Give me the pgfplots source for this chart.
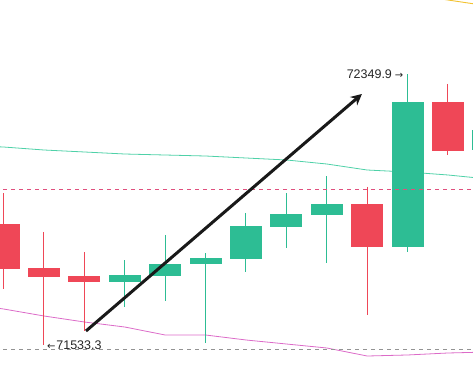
\documentclass[border=0pt]{standalone}
\usepackage{fontspec}
\setmainfont{Liberation Sans}
\newfontfamily\dejavu{DejaVu Sans}
\usepackage{pgfplots}
\pgfplotsset{compat=1.18}
\usetikzlibrary{arrows.meta}
\definecolor{cg}{HTML}{2DBD94}
\definecolor{cr}{HTML}{EF4757}
\definecolor{mateal}{HTML}{4FD1A8}
\definecolor{mapink}{HTML}{DC6BC8}
\definecolor{mayel}{HTML}{F2C230}
\definecolor{dred}{HTML}{E0507E}
\begin{document}
\begin{tikzpicture}
\begin{axis}[width=473pt, height=365pt, scale only axis,
  xmin=-0.089, xmax=11.62, ymin=71473.0, ymax=72572.9,
  axis lines=none, clip=true]
% moving averages
\addplot[mateal, line width=0.8pt] coordinates {(-0.2,72131) (0,72129.9) (1,72120.9) (2,72114.9) (3,72108.8) (4,72105.8) (5,72102.8) (6,72096.8) (7,72090.8) (8,72078.7) (9,72060.6) (10,72054.6) (11,72045.6) (12,72033.5)};
\addplot[mapink, line width=0.8pt] coordinates {(-0.2,71645) (0,71641.8) (1,71620.7) (2,71602.6) (3,71587.5) (4,71563.4) (5,71563.4) (6,71548.4) (7,71536.3) (8,71524.3) (9,71500.1) (10,71503.2) (11,71509.2) (12,71512.2)};
\addplot[mayel, line width=0.9pt] coordinates {(10,72591) (11,72572.9) (12,72554.8)};
% candles: wicks
\addplot[cr, line width=1pt] coordinates {(0,71991.3) (0,71702.0)};
\addplot[cr, line width=1pt] coordinates {(1,71873.8) (1,71533.3)};
\addplot[cr, line width=1pt] coordinates {(2,71813.5) (2,71575.5)};
\addplot[cg, line width=1pt] coordinates {(3,71789.4) (3,71647.8)};
\addplot[cg, line width=1pt] coordinates {(4,71864.8) (4,71665.9)};
\addplot[cg, line width=1pt] coordinates {(5,71810.5) (5,71539.3)};
\addplot[cg, line width=1pt] coordinates {(6,71931.1) (6,71753.3)};
\addplot[cg, line width=1pt] coordinates {(7,71991.3) (7,71825.6)};
\addplot[cg, line width=1pt] coordinates {(8,72042.5) (8,71780.4)};
\addplot[cr, line width=1pt] coordinates {(9,72009.4) (9,71623.7)};
\addplot[cg, line width=1pt] coordinates {(10,72349.9) (10,71813.5)};
\addplot[cr, line width=1pt] coordinates {(11,72319.8) (11,72105.8)};
\addplot[cg, line width=1pt] coordinates {(12,72200.0) (12,72100.0)};
% candles: bodies
\addplot[fill=cr, draw=none] coordinates {(-0.396,71897.9) (0.396,71897.9) (0.396,71762.3) (-0.396,71762.3)};
\addplot[fill=cr, draw=none] coordinates {(0.604,71765.3) (1.396,71765.3) (1.396,71738.2) (0.604,71738.2)};
\addplot[fill=cr, draw=none] coordinates {(1.604,71741.2) (2.396,71741.2) (2.396,71723.1) (1.604,71723.1)};
\addplot[fill=cg, draw=none] coordinates {(2.604,71723.1) (3.396,71723.1) (3.396,71744.2) (2.604,71744.2)};
\addplot[fill=cg, draw=none] coordinates {(3.604,71741.2) (4.396,71741.2) (4.396,71777.4) (3.604,71777.4)};
\addplot[fill=cg, draw=none] coordinates {(4.604,71777.4) (5.396,71777.4) (5.396,71795.5) (4.604,71795.5)};
\addplot[fill=cg, draw=none] coordinates {(5.604,71792.4) (6.396,71792.4) (6.396,71891.9) (5.604,71891.9)};
\addplot[fill=cg, draw=none] coordinates {(6.604,71888.9) (7.396,71888.9) (7.396,71928.0) (6.604,71928.0)};
\addplot[fill=cg, draw=none] coordinates {(7.604,71925.0) (8.396,71925.0) (8.396,71958.2) (7.604,71958.2)};
\addplot[fill=cr, draw=none] coordinates {(8.604,71958.2) (9.396,71958.2) (9.396,71828.6) (8.604,71828.6)};
\addplot[fill=cg, draw=none] coordinates {(9.604,71828.6) (10.396,71828.6) (10.396,72265.5) (9.604,72265.5)};
\addplot[fill=cr, draw=none] coordinates {(10.604,72265.5) (11.396,72265.5) (11.396,72117.9) (10.604,72117.9)};
\addplot[fill=cg, draw=none] coordinates {(11.604,72120.9) (12.396,72120.9) (12.396,72181.2) (11.604,72181.2)};
% dashed reference lines (on top of candles)
\addplot[dred, line width=0.8pt, dash pattern=on 4pt off 4pt] coordinates {(-1,72003.4) (13,72003.4)};
\addplot[gray!85, line width=0.7pt, dash pattern=on 4pt off 4pt] coordinates {(-1,71521.2) (13,71521.2)};
% trend arrow
\addplot[black!90, line width=3pt, -{Stealth[length=11pt,width=11pt]}] coordinates {(2.04,71575.5) (8.87,72289.6)};
% labels
\node[anchor=east, inner sep=0pt, font=\fontsize{12.5}{14}\selectfont, text=black!85] at (axis cs:9.90,72349.9) {72349.9\hspace{3pt}{\dejavu\fontsize{10}{11}\selectfont →}};
\node[anchor=west, inner sep=0pt, font=\fontsize{12.5}{14}\selectfont, text=black!85] at (axis cs:1.07,71533.3) {{\dejavu\fontsize{10}{11}\selectfont ←}\hspace{1pt}71533.3};
\end{axis}
\pgfresetboundingbox
\path[use as bounding box] (current axis.south west) rectangle (current axis.north east);
\end{tikzpicture}
\end{document}
